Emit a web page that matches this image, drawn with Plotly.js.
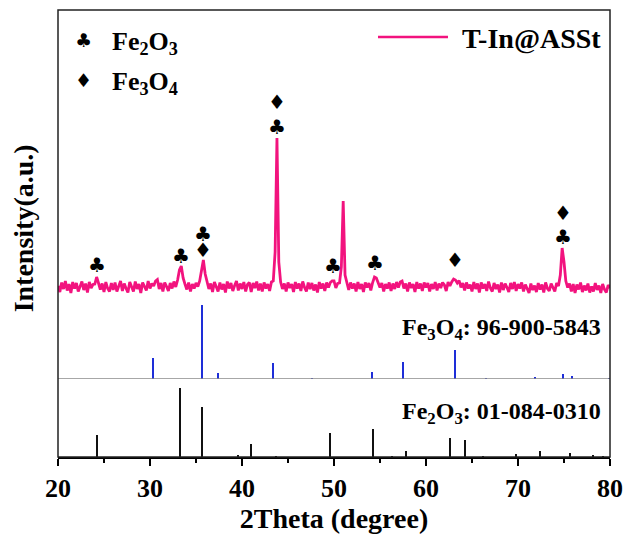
<!DOCTYPE html>
<html>
<head>
<meta charset="utf-8">
<script src="https://cdn.plot.ly/plotly-3.0.1.min.js"></script>
<style>html,body{margin:0;padding:0;background:#fff;}#chart{width:626px;height:544px;}</style>
</head>
<body>
<div id="chart"></div>
<script>
// ---- measured XRD pattern of T-In@ASSt (2theta from 20 to 80, step 0.2) ----
const scanStart = 20;
const scanStep = 0.2;
const sampleIntensity = [
  1010, 950, 1045, 980, 1060, 965, 1030, 940, 1050, 985,
  1040, 955, 1005, 1055, 970, 1035, 945, 1050, 990, 1025,
  1030, 1100, 1040, 975, 1035, 950, 1050, 985, 955, 1040,
  970, 1045, 955, 1015, 1060, 960, 1035, 985, 945, 1050,
  1000, 955, 1055, 980, 1030, 940, 1045, 1010, 965, 1060,
  985, 1035, 1010, 1060, 1075, 980, 1040, 955, 1045, 1005,
  960, 1040, 985, 1055, 1000, 1070, 1170, 1210, 1090, 1030,
  975, 1045, 955, 1030, 985, 1040, 1005, 1060, 1150, 1270,
  1130, 1045, 980, 1035, 950, 1050, 995, 955, 1045, 975,
  1030, 945, 1055, 985, 1040, 960, 1015, 1060, 965, 1035,
  980, 1050, 955, 1025, 1045, 950, 1040, 990, 1055, 965,
  1035, 955, 1045, 985, 1030, 960, 1050, 1060, 1350, 2490,
  1250, 1050, 980, 1035, 955, 1045, 990, 1030, 950, 1050,
  985, 1035, 960, 1055, 995, 955, 1045, 980, 1040, 965,
  1025, 945, 1050, 985, 1035, 960, 1045, 995, 1045, 1060,
  1060, 990, 1035, 1040, 1200, 1860, 1120, 1030, 970, 1045,
  985, 1035, 955, 1050, 980, 1030, 950, 1045, 995, 1040,
  965, 1045, 1100, 1090, 1050, 995, 1040, 955, 1030, 985,
  1045, 960, 1035, 980, 1050, 995, 1050, 1060, 985, 1035,
  955, 1045, 990, 1030, 950, 1050, 985, 1035, 960, 1045,
  995, 1040, 955, 1030, 980, 1050, 965, 1035, 990, 1045,
  1020, 960, 1050, 1010, 1050, 1080, 1070, 1040, 1065, 995,
  1040, 965, 1045, 985, 1025, 955, 1050, 980, 1035, 945,
  1045, 985, 1030, 960, 1055, 990, 955, 1040, 980, 1025,
  945, 1045, 970, 1035, 995, 950, 1040, 980, 1050, 960,
  1030, 985, 1045, 955, 1025, 980, 940, 1035, 970, 1015,
  950, 1040, 975, 1025, 945, 1045, 985, 960, 1035, 995,
  955, 1040, 1010, 1120, 1390, 1250, 1060, 995, 1035, 955,
  1030, 940, 1025, 975, 1045, 950, 1015, 965, 1035, 945,
  1005, 955, 1040, 970, 1015, 940, 1030, 975, 945, 1020,
  990
];

// ---- reference card Fe3O4 96-900-5843 ----
const fe3o4Angles = [30.3, 35.7, 37.4, 43.4, 47.6, 54.1, 57.5, 63.1, 66.5, 71.8, 74.9, 75.9, 79.9];
const fe3o4Rel    = [28, 100, 8, 22, 1, 9, 23, 39, 1, 3, 7, 4, 2];

// ---- reference card Fe2O3 01-084-0310 ----
const fe2o3Angles = [24.2, 33.3, 35.7, 39.6, 41.0, 43.7, 49.6, 54.2, 56.3, 57.8, 62.6, 64.2, 66.2, 69.8, 72.4, 75.7, 78.1, 79.2];
const fe2o3Rel    = [32, 100, 72, 3, 19, 2, 35, 41, 1, 8, 27, 25, 1, 4, 9, 6, 3, 2];

// ---- phase markers on the measured pattern ----
const clubAngles   = [24.2, 33.4, 35.8, 43.8, 49.9, 54.5, 74.9];
const clubLevels   = [1220, 1310, 1530, 2603, 1210, 1243, 1497];
const diamondAngles = [35.8, 43.8, 63.1, 74.9];
const diamondLevels = [1375, 2853, 1270, 1743];

const tickValues = [20, 30, 40, 50, 60, 70, 80];
const tickLabels = ['20', '30', '40', '50', '60', '70', '80'];

const scanAngles = sampleIntensity.map((_, i) => +(scanStart + i * scanStep).toFixed(1));

const SERIF = 'Liberation Serif, Times New Roman, serif';
const PINK = '#f2137e';
const BLUE = '#1e2ed8';

const traces = [
  {
    type: 'scatter', mode: 'lines', name: 'T-In@ASSt',
    x: scanAngles, y: sampleIntensity, xaxis: 'x', yaxis: 'y',
    line: {color: PINK, width: 2.8}, showlegend: false, hoverinfo: 'x+y'
  },
  {
    type: 'bar', name: 'Fe3O4: 96-900-5843',
    x: fe3o4Angles, y: fe3o4Rel, xaxis: 'x', yaxis: 'y2',
    width: 0.22, marker: {color: BLUE, line: {width: 0}}, showlegend: false
  },
  {
    type: 'bar', name: 'Fe2O3: 01-084-0310',
    x: fe2o3Angles, y: fe2o3Rel, xaxis: 'x', yaxis: 'y3',
    width: 0.22, marker: {color: '#111111', line: {width: 0}}, showlegend: false
  }
];

const annotations = [];
clubAngles.forEach((a, i) => annotations.push({
  x: a, y: clubLevels[i], xref: 'x', yref: 'y', text: '\u2663', showarrow: false,
  font: {family: 'DejaVu Sans', size: 20, color: '#000'}, xanchor: 'center', yanchor: 'middle'
}));
diamondAngles.forEach((a, i) => annotations.push({
  x: a, y: diamondLevels[i], xref: 'x', yref: 'y', text: '\u2666', showarrow: false,
  font: {family: 'DejaVu Sans', size: 20, color: '#000'}, xanchor: 'center', yanchor: 'middle'
}));

// phase key (top-left)
annotations.push(
  {x: 0.0453, y: 0.933, xref: 'paper', yref: 'paper', text: '\u2663', showarrow: false,
   font: {family: 'DejaVu Sans', size: 19, color: '#000'}, xanchor: 'center', yanchor: 'middle'},
  {x: 0.0453, y: 0.843, xref: 'paper', yref: 'paper', text: '\u2666', showarrow: false,
   font: {family: 'DejaVu Sans', size: 19, color: '#000'}, xanchor: 'center', yanchor: 'middle'},
  {x: 0.094, y: 0.926, xref: 'paper', yref: 'paper', text: 'Fe<sub>2</sub>O<sub>3</sub>', showarrow: false,
   font: {family: SERIF, size: 26, color: '#000', weight: 'bold'}, xanchor: 'left', yanchor: 'middle'},
  {x: 0.094, y: 0.836, xref: 'paper', yref: 'paper', text: 'Fe<sub>3</sub>O<sub>4</sub>', showarrow: false,
   font: {family: SERIF, size: 26, color: '#000', weight: 'bold'}, xanchor: 'left', yanchor: 'middle'},
  // series key (top-right)
  {x: 0.9873, y: 0.937, xref: 'paper', yref: 'paper', text: 'T-In@ASSt', showarrow: false,
   font: {family: SERIF, size: 28, color: '#000', weight: 'bold'}, xanchor: 'right', yanchor: 'middle'},
  // reference card labels
  {x: 0.9873, y: 0.286, xref: 'paper', yref: 'paper', text: 'Fe<sub>3</sub>O<sub>4</sub>: 96-900-5843', showarrow: false,
   font: {family: SERIF, size: 24, color: '#000', weight: 'bold'}, xanchor: 'right', yanchor: 'middle'},
  {x: 0.9873, y: 0.098, xref: 'paper', yref: 'paper', text: 'Fe<sub>2</sub>O<sub>3</sub>: 01-084-0310', showarrow: false,
   font: {family: SERIF, size: 24, color: '#000', weight: 'bold'}, xanchor: 'right', yanchor: 'middle'},
  // y title
  {x: -0.063, y: 0.512, xref: 'paper', yref: 'paper', text: 'Intensity(a.u.)', showarrow: false, textangle: -90,
   font: {family: SERIF, size: 28, color: '#000', weight: 'bold'}, xanchor: 'center', yanchor: 'middle'}
);

const hiddenY = {showticklabels: false, ticks: '', showgrid: false, zeroline: false, showline: false, anchor: 'x', fixedrange: true};

const layout = {
  width: 626, height: 544,
  margin: {l: 58, r: 16, t: 10, b: 87, pad: 0},
  paper_bgcolor: '#fff', plot_bgcolor: '#fff',
  showlegend: false, barmode: 'overlay', bargap: 0,
  xaxis: {
    range: [20, 80], anchor: 'y3', tickmode: 'array', tickvals: tickValues, ticktext: tickLabels,
    ticks: 'outside', ticklen: 7, tickwidth: 1.5, tickcolor: '#000',
    minor: {dtick: 5, tick0: 20, ticks: 'outside', ticklen: 4, tickwidth: 1.5, tickcolor: '#000', showgrid: false},
    showline: true, linecolor: '#000', linewidth: 1.5, showgrid: false, zeroline: false,
    tickfont: {family: SERIF, size: 26, color: '#000', weight: 'bold'},
    title: {text: '2Theta (degree)', standoff: 6, font: {family: SERIF, size: 28, color: '#000', weight: 'bold'}}
  },
  yaxis: Object.assign({domain: [0.3512, 1], range: [870, 3770]}, hiddenY),
  yaxis2: Object.assign({domain: [0.1745, 0.3512], range: [0, 106.8]}, hiddenY),
  yaxis3: Object.assign({domain: [0, 0.1745], range: [0, 113]}, hiddenY),
  shapes: [
    {type: 'line', xref: 'paper', x0: 0, x1: 1, yref: 'y2', y0: 0, y1: 0, line: {color: '#8a8a8a', width: 1.5}},
    {type: 'rect', xref: 'paper', yref: 'paper', x0: 0, x1: 1, y0: 0, y1: 1, line: {color: '#222', width: 1.5}},
    {type: 'line', xref: 'paper', yref: 'paper', x0: 0.5797, x1: 0.7065, y0: 0.9396, y1: 0.9396, line: {color: PINK, width: 2.5}}
  ],
  annotations: annotations
};

Plotly.newPlot('chart', traces, layout, {displayModeBar: false, staticPlot: true});
</script>
</body>
</html>
